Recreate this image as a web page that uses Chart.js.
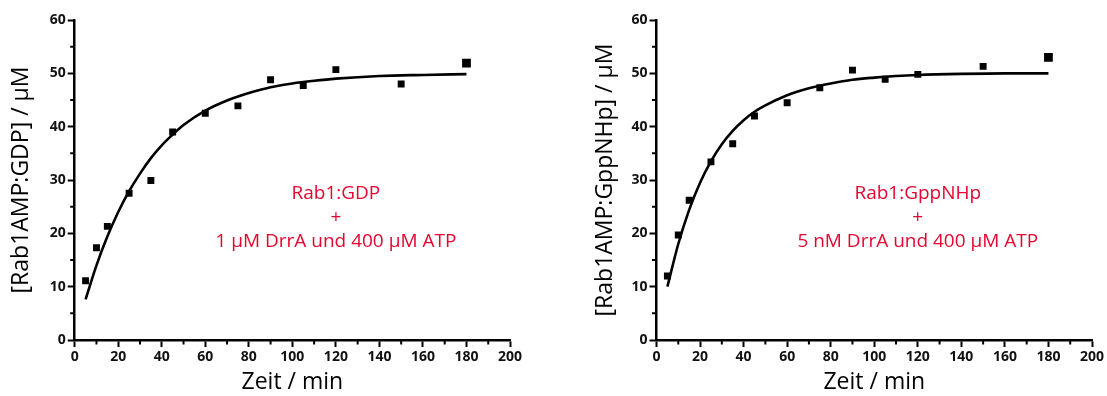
<!DOCTYPE html>
<html>
<head>
<meta charset="utf-8">
<script src="https://cdn.jsdelivr.net/npm/chart.js@4/dist/chart.umd.min.js"></script>
<style>
  html, body { margin: 0; padding: 0; background: #fff; }
  #wrap { position: relative; width: 1107px; height: 396px; }
  canvas { position: absolute; top: 0; }
  #c1 { left: 0; }
  #c2 { left: 553px; }
</style>
</head>
<body>
<div id="wrap">
  <canvas id="c1" width="553" height="396"></canvas>
  <canvas id="c2" width="554" height="396"></canvas>
</div>
<script>
// ---- data ----
const sampleTimes = [5, 10, 15, 25, 35, 45, 60, 75, 90, 105, 120, 150, 180];
const gdpValues   = [11.1, 17.3, 21.3, 27.5, 29.9, 39.0, 42.5, 43.9, 48.8, 47.7, 50.7, 48.0, 51.9];
const gppValues   = [12.0, 19.7, 26.2, 33.4, 36.8, 42.0, 44.5, 47.3, 50.6, 48.9, 49.8, 51.3, 53.0];

const fitTimes = [5, 10, 15, 20, 25, 30, 35, 40, 45, 50, 60, 70, 80, 90, 100, 110, 120, 140, 160, 180];
const gdpFit   = [7.6, 14.0, 19.4, 24.0, 27.9, 31.2, 34.1, 36.5, 38.5, 40.3, 43.0, 44.9, 46.3, 47.4, 48.1, 48.6, 49.0, 49.5, 49.7, 49.85];
const gppFit   = [10.0, 18.0, 24.4, 29.5, 33.5, 36.7, 39.2, 41.2, 42.8, 44.0, 45.9, 47.2, 48.1, 48.8, 49.2, 49.5, 49.7, 49.9, 50.0, 50.0];

const xTickValues = [0, 20, 40, 60, 80, 100, 120, 140, 160, 180, 200];
const yTickValues = [0, 10, 20, 30, 40, 50, 60];

const xTitle = 'Zeit / min';
const gdpYTitle = '[Rab1AMP:GDP] / µM';
const gppYTitle = '[Rab1AMP:GppNHp] / µM';
const gdpNote = ['Rab1:GDP', '+', '1 µM DrrA und 400 µM ATP'];
const gppNote = ['Rab1:GppNHp', '+', '5 nM DrrA und 400 µM ATP'];
const noteAnchor = { x: 120, y: 26.4 };

// ---- helpers ----
const FONT = '"Open Sans", "DejaVu Sans", sans-serif';
const RED = '#e4062f';

function pts(xs, ys) { return xs.map((x, i) => ({ x: x, y: ys[i] })); }

const minorTicks = {
  id: 'minorTicks',
  afterDraw(chart) {
    const ctx = chart.ctx;
    const xs = chart.scales.x, ys = chart.scales.y;
    ctx.save();
    ctx.strokeStyle = '#000';
    ctx.lineWidth = 2;
    ctx.beginPath();
    for (let v = 10; v < 200; v += 20) {
      const px = xs.getPixelForValue(v);
      ctx.moveTo(px, xs.top); ctx.lineTo(px, xs.top + 4.5);
    }
    for (let v = 5; v < 60; v += 10) {
      const py = ys.getPixelForValue(v);
      ctx.moveTo(ys.right, py); ctx.lineTo(ys.right - 4.5, py);
    }
    ctx.stroke();
    ctx.restore();
  }
};

const notePlugin = {
  id: 'note',
  afterDraw(chart, args, opts) {
    const ctx = chart.ctx;
    const x = chart.scales.x.getPixelForValue(noteAnchor.x);
    const y0 = chart.scales.y.getPixelForValue(noteAnchor.y);
    ctx.save();
    ctx.fillStyle = RED;
    ctx.font = '19px ' + FONT;
    ctx.textAlign = 'center';
    ctx.textBaseline = 'alphabetic';
    opts.lines.forEach((t, i) => ctx.fillText(t, x, y0 + i * 24));
    ctx.restore();
  }
};

function makeChart(id, values, fit, yTitle, note, yAxisWidth, padLeft, padRight, titlePad) {
  return new Chart(document.getElementById(id), {
    type: 'scatter',
    data: {
      datasets: [
        {
          data: pts(sampleTimes, values),
          showLine: false,
          pointStyle: 'rect',
          backgroundColor: '#000',
          borderColor: '#000',
          borderWidth: 0,
          pointRadius: (c) => (c.dataIndex === sampleTimes.length - 1 ? 6.2 : 4.9)
        },
        {
          data: pts(fitTimes, fit),
          showLine: true,
          borderColor: '#000',
          borderWidth: 2.6,
          pointRadius: 0,
          cubicInterpolationMode: 'monotone',
          fill: false
        }
      ]
    },
    options: {
      responsive: false,
      animation: false,
      devicePixelRatio: 1,
      layout: { padding: { top: 20, right: padRight, left: padLeft, bottom: 0 } },
      plugins: {
        legend: { display: false },
        tooltip: { enabled: false },
        note: { lines: note }
      },
      scales: {
        x: {
          type: 'linear',
          min: 0, max: 200,
          afterBuildTicks: (s) => { s.ticks = xTickValues.map(v => ({ value: v })); },
          afterFit: (s) => { s.height = 56; },
          border: { display: true, color: '#000', width: 2.5 },
          grid: { display: true, drawOnChartArea: false, drawTicks: true, tickLength: 7, tickWidth: 2, tickColor: '#000' },
          ticks: { color: '#111', padding: 2, maxRotation: 0, font: { family: FONT, size: 14, weight: 'bold' } },
          title: { display: true, text: xTitle, color: '#000', padding: { top: 0, bottom: 0 }, font: { family: FONT, size: 23 } }
        },
        y: {
          type: 'linear',
          min: 0, max: 60,
          afterBuildTicks: (s) => { s.ticks = yTickValues.map(v => ({ value: v })); },
          afterFit: (s) => { s.width = yAxisWidth; },
          border: { display: true, color: '#000', width: 2.5 },
          grid: { display: true, drawOnChartArea: false, drawTicks: true, tickLength: 7, tickWidth: 2, tickColor: '#000' },
          ticks: { color: '#111', padding: 2, font: { family: FONT, size: 14, weight: 'bold' } },
          title: { display: true, text: yTitle, color: '#000', padding: { top: titlePad, bottom: 0 }, font: { family: FONT, size: 23 } }
        }
      }
    },
    plugins: [minorTicks, notePlugin]
  });
}

makeChart('c1', gdpValues, gdpFit, gdpYTitle, gdpNote, 74.7, 0, 43, 8);
makeChart('c2', gppValues, gppFit, gppYTitle, gppNote, 73.5, 30, 15, 9);
</script>
</body>
</html>
